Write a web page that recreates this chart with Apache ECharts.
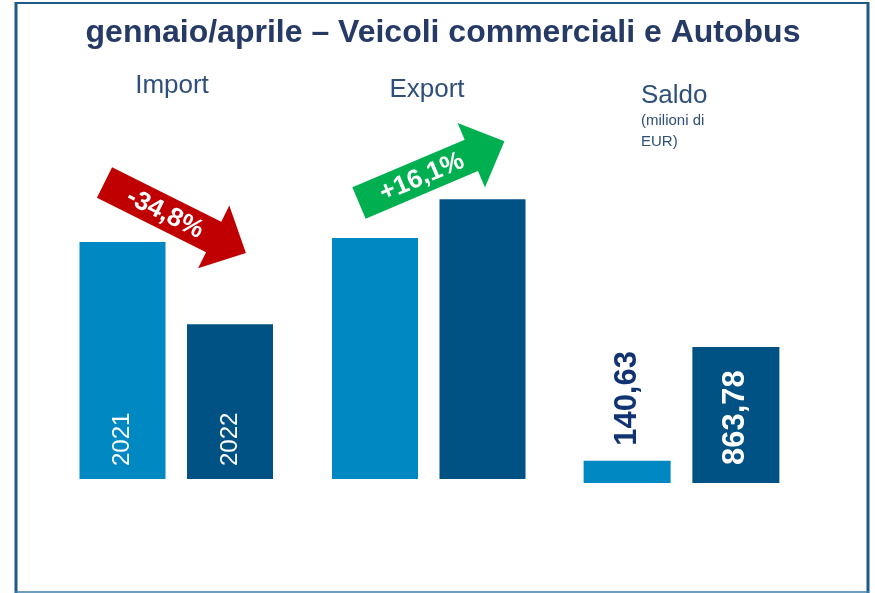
<!DOCTYPE html>
<html>
<head>
<meta charset="utf-8">
<script src="https://cdn.jsdelivr.net/npm/echarts@6/dist/echarts.min.js"></script>
<style>
  html, body { margin: 0; padding: 0; background: #fff; }
  #chart { width: 875px; height: 593px; }
</style>
</head>
<body>
<div id="chart"></div>
<script>
// Import / Export (milioni di EUR)
const flowCategories = ['Import', 'Export'];
const flow2021 = [1510, 1535];
const flow2022 = [985, 1782];
const yearLabels = ['2021', '2022'];

// Saldo
const saldoCategories = ['Saldo'];
const saldo2021 = [140.63];
const saldo2022 = [863.78];

const changeLabels = ['-34,8%', '+16,1%'];

const FONT = '"Liberation Sans", Arial, sans-serif';
const LIGHT = '#0088c2';
const DARK = '#005184';
const NAVY = '#263a66';
const LABEL = '#2e4f7a';

function fmtIt(v) {
  return v.toFixed(2).replace('.', ',');
}

// arrow polygon in local coords, pointing right from (0,0)
function arrowShape(shaftLen, shaftW, headLen, headW) {
  return [
    [0, -shaftW / 2], [shaftLen, -shaftW / 2], [shaftLen, -headW / 2],
    [shaftLen + headLen, 0],
    [shaftLen, headW / 2], [shaftLen, shaftW / 2], [0, shaftW / 2]
  ];
}

// angleDeg > 0 points up-right, < 0 down-right
function arrow(x, y, angleDeg, color, text, textAt) {
  return {
    type: 'group',
    x, y,
    z: 10,
    rotation: angleDeg * Math.PI / 180,
    children: [
      {
        type: 'polygon',
        shape: { points: arrowShape(122, 34, 36, 70) },
        style: { fill: color }
      },
      {
        type: 'text',
        x: textAt, y: 1,
        style: {
          text, fill: '#fff', font: 'bold 26px ' + FONT,
          align: 'center', verticalAlign: 'middle'
        }
      }
    ]
  };
}

const chart = echarts.init(document.getElementById('chart'));

const yearLabel = (txt) => ({
  show: true,
  formatter: txt,
  position: 'insideBottom',
  rotate: 90,
  align: 'left',
  verticalAlign: 'middle',
  distance: 13,
  color: '#fff',
  fontFamily: FONT,
  fontSize: 24
});

chart.setOption({
  animation: false,
  textStyle: { fontFamily: FONT },
  grid: [
    { left: 50, width: 505, top: 165, bottom: 114 },
    { left: 555, width: 253, top: 168, bottom: 110 }
  ],
  xAxis: [
    { type: 'category', gridIndex: 0, data: flowCategories, show: false },
    { type: 'category', gridIndex: 1, data: saldoCategories, show: false }
  ],
  yAxis: [
    { type: 'value', gridIndex: 0, min: 0, max: 2000, show: false },
    { type: 'value', gridIndex: 1, min: 0, max: 2000, show: false }
  ],
  series: [
    {
      name: yearLabels[0], type: 'bar', xAxisIndex: 0, yAxisIndex: 0,
      barWidth: 86, barGap: '25%',
      itemStyle: { color: LIGHT },
      data: flow2021.map((v, i) => ({ value: v, label: i === 0 ? yearLabel(yearLabels[0]) : { show: false } }))
    },
    {
      name: yearLabels[1], type: 'bar', xAxisIndex: 0, yAxisIndex: 0,
      barWidth: 86, barGap: '25%',
      itemStyle: { color: DARK },
      data: flow2022.map((v, i) => ({ value: v, label: i === 0 ? yearLabel(yearLabels[1]) : { show: false } }))
    },
    {
      name: 'Saldo ' + yearLabels[0], type: 'bar', xAxisIndex: 1, yAxisIndex: 1,
      barWidth: 87, barGap: '25%',
      itemStyle: { color: LIGHT },
      data: saldo2021,
      label: {
        show: true, position: 'top', rotate: 90, align: 'left', verticalAlign: 'middle',
        distance: 15, color: '#123372', fontWeight: 'bold', fontSize: 31,
        formatter: (p) => fmtIt(p.value)
      }
    },
    {
      name: 'Saldo ' + yearLabels[1], type: 'bar', xAxisIndex: 1, yAxisIndex: 1,
      barWidth: 87, barGap: '25%',
      itemStyle: { color: DARK },
      data: saldo2022,
      label: {
        show: true, position: 'insideBottom', rotate: 90, align: 'left', verticalAlign: 'middle',
        distance: 18, color: '#fff', fontWeight: 'bold', fontSize: 31,
        formatter: (p) => fmtIt(p.value)
      }
    }
  ],
  graphic: [
    // frame
    { type: 'line', shape: { x1: 15, y1: 3, x2: 869, y2: 3 }, style: { stroke: '#1d5a8a', lineWidth: 2 } },
    { type: 'line', shape: { x1: 16, y1: 2, x2: 16, y2: 593 }, style: { stroke: '#1d5a8a', lineWidth: 3 } },
    { type: 'line', shape: { x1: 868, y1: 2, x2: 868, y2: 593 }, style: { stroke: '#1d5a8a', lineWidth: 3 } },
    { type: 'line', shape: { x1: 15, y1: 592, x2: 869, y2: 592 }, style: { stroke: '#3f7fab', lineWidth: 1.5 } },
    // title
    {
      type: 'text', x: 443, y: 33,
      style: {
        text: 'gennaio/aprile – Veicoli commerciali e Autobus',
        font: 'bold 32px ' + FONT, fill: NAVY, align: 'center', verticalAlign: 'middle'
      }
    },
    { type: 'text', x: 172, y: 86, style: { text: flowCategories[0], font: '26px ' + FONT, fill: LABEL, align: 'center', verticalAlign: 'middle' } },
    { type: 'text', x: 427, y: 90, style: { text: flowCategories[1], font: '26px ' + FONT, fill: LABEL, align: 'center', verticalAlign: 'middle' } },
    { type: 'text', x: 641, y: 96, style: { text: saldoCategories[0], font: '26px ' + FONT, fill: LABEL, align: 'left', verticalAlign: 'middle' } },
    { type: 'text', x: 641, y: 121, style: { text: '(milioni di', font: '15px ' + FONT, fill: LABEL, align: 'left', verticalAlign: 'middle' } },
    { type: 'text', x: 641, y: 142, style: { text: 'EUR)', font: '15px ' + FONT, fill: LABEL, align: 'left', verticalAlign: 'middle' } },
    // change arrows
    arrow(104.5, 182.5, -26.5, '#c00000', changeLabels[0], 68),
    arrow(359, 203, 23, '#00b050', changeLabels[1], 68)
  ]
});
</script>
</body>
</html>
